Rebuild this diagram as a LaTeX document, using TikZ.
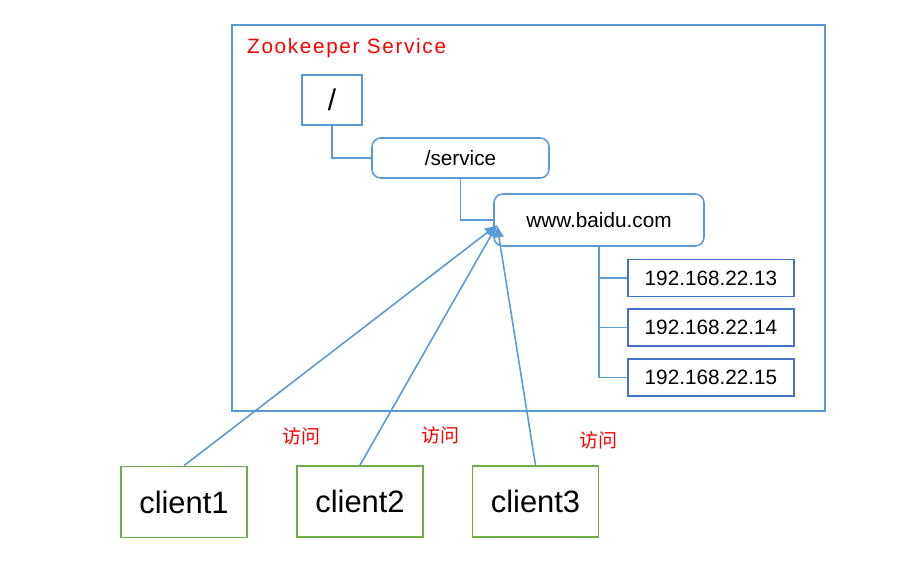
\documentclass[tikz,border=0pt]{standalone}
\usepackage{fontspec}
\setmainfont{Liberation Sans}
\newfontfamily\cjk{Noto Sans CJK SC}
\newfontfamily\spaced[LetterSpace=8]{Liberation Sans}
\usetikzlibrary{arrows.meta}
\definecolor{zkblue}{RGB}{91,155,213}
\definecolor{ipblue}{RGB}{68,114,196}
\definecolor{cgreen}{RGB}{112,173,71}
\tikzset{
  znode/.style={draw=zkblue, line width=0.9pt, inner sep=0pt, font=\fontsize{11.8}{14}\selectfont},
  ipbox/.style={draw=ipblue, line width=1pt, inner sep=0pt, minimum width=3.32cm, minimum height=0.74cm, font=\fontsize{11.8}{14}\selectfont},
  clientbox/.style={draw=cgreen, line width=1pt, inner sep=0pt, minimum width=2.52cm, minimum height=1.42cm, font=\fontsize{17.6}{20}\selectfont},
  tree/.style={draw=zkblue, line width=0.6pt},
  visit/.style={draw=zkblue, line width=0.9pt, -{Latex[length=7pt,width=6pt]}},
  fangwen/.style={text=red, font=\cjk\fontsize{10.8}{12}\selectfont}
}
\begin{document}
\begin{tikzpicture}[x=0.02cm,y=-0.02cm]
    \useasboundingbox (0,0) rectangle (913,586);
    % service frame
    \draw[zkblue, line width=1pt] (232,25) rectangle (825,411);
    \node[anchor=west, text=red, font=\spaced\fontsize{11.8}{14}\selectfont] (title) at (241,48) {Zookeeper Service};
    % znodes
    \node[znode, minimum width=1.2cm, minimum height=1cm, font=\fontsize{17}{20}\selectfont] (root) at (332,100) {/};
    \node[znode, rounded corners=5pt, minimum width=3.54cm, minimum height=0.8cm] (service) at (460.5,158) {/service};
    \node[znode, rounded corners=5pt, minimum width=4.2cm, minimum height=1.04cm] (baidu) at (599,220) {www.baidu.com};
    \node[ipbox] (ip1) at (711,278) {192.168.22.13};
    \node[ipbox] (ip2) at (711,327.5) {192.168.22.14};
    \node[ipbox] (ip3) at (711,377.5) {192.168.22.15};
    \draw[tree] (root.south) |- (service.west);
    \draw[tree] (service.south) |- (baidu.west);
    \draw[tree] (baidu.south) |- (ip1.west);
    \draw[tree] (baidu.south) |- (ip2.west);
    \draw[tree] (baidu.south) |- (ip3.west);
    % clients
    \node[clientbox] (client1) at (184,502) {client1};
    \node[clientbox] (client2) at (360,501.5) {client2};
    \node[clientbox] (client3) at (535.5,501.5) {client3};
    \coordinate (hit) at (497,225);
    \draw[visit] (client1.north) -- (hit);
    \draw[visit] (client2.north) -- (hit);
    \draw[visit] (client3.north) -- (hit);
    \node[fangwen] (v1) at (301,436) {访问};
    \node[fangwen] (v2) at (440,435) {访问};
    \node[fangwen] (v3) at (598,440) {访问};
\end{tikzpicture}
\end{document}
